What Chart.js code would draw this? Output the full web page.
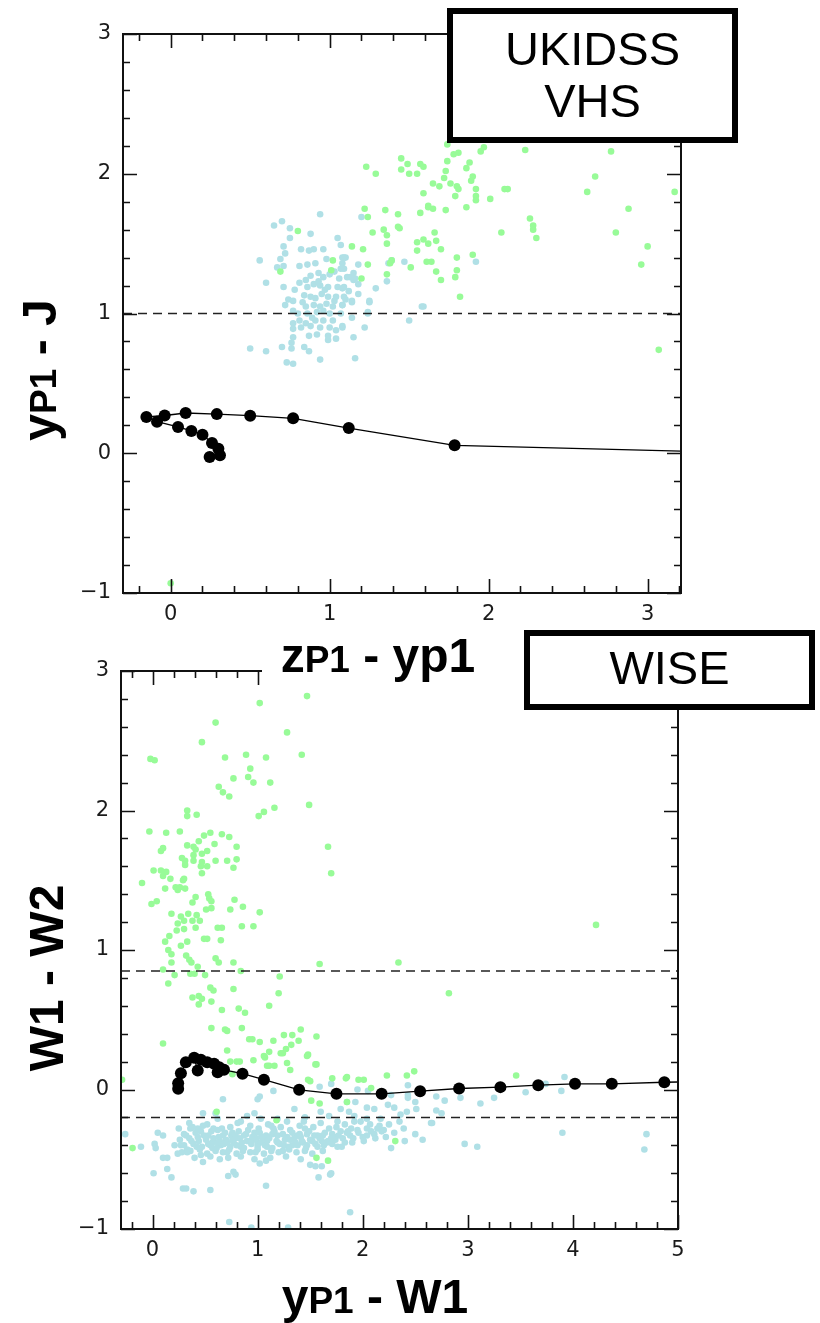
<!DOCTYPE html>
<html>
<head>
<meta charset="utf-8">
<script src="https://cdn.jsdelivr.net/npm/chart.js@4.4.0/dist/chart.umd.min.js"></script>
<style>
html, body { margin: 0; padding: 0; background: #fff; }
body { width: 820px; height: 1323px; position: relative; overflow: hidden; }
canvas { position: absolute; left: 0; }
#top-chart { top: 0; z-index: 2; }
#bottom-chart { top: 615px; z-index: 1; }
</style>
</head>
<body>
<canvas id="top-chart" width="820" height="700"></canvas>
<canvas id="bottom-chart" width="820" height="708"></canvas>
<script>
// ---- data: top panel (zP1 - yP1 vs yP1 - J) ----
const topXRange = [-0.3, 3.21];
const topYRange = [-1, 3];
const topXLabels = [0, 1, 2, 3];
const topYLabels = [-1, 0, 1, 2, 3];
const topDashY = [1.0];

const topTrackX = [3.60, 1.786, 1.12, 0.77, 0.50, 0.29, 0.094, -0.038, -0.153, -0.086, 0.046, 0.13, 0.20, 0.26, 0.30, 0.31, 0.245];
const topTrackY = [0.004, 0.057, 0.18, 0.25, 0.269, 0.28, 0.288, 0.27, 0.26, 0.226, 0.188, 0.16, 0.133, 0.074, 0.033, -0.014, -0.026];

const topCyan = [
  [0.94,1.71],[0.65,1.63],[0.70,1.66],[0.75,1.61],[0.75,1.54],[0.88,1.57],[1.20,1.69],[1.05,1.54],[1.07,1.49],[0.71,1.48],
  [0.82,1.46],[0.72,1.43],[0.87,1.45],[0.90,1.46],[0.96,1.46],[0.69,1.39],[0.56,1.38],[0.67,1.33],[0.71,1.34],[0.81,1.34],
  [0.86,1.35],[0.91,1.36],[0.98,1.39],[1.08,1.40],[1.10,1.40],[1.18,1.35],[1.07,1.32],[0.60,1.22],[0.71,1.19],[0.81,1.22],
  [0.88,1.27],[0.93,1.29],[0.96,1.26],[1.00,1.28],[1.06,1.25],[1.11,1.26],[1.15,1.29],[1.15,1.24],[1.18,1.21],[1.29,1.18],
  [0.78,1.17],[0.86,1.19],[0.90,1.21],[0.94,1.20],[0.99,1.19],[1.05,1.19],[1.09,1.19],[1.18,1.14],[0.74,1.10],[0.77,1.09],
  [0.84,1.13],[0.88,1.12],[0.91,1.11],[0.95,1.14],[0.99,1.12],[1.04,1.12],[1.09,1.12],[0.72,1.06],[1.14,1.08],[1.25,1.08],
  [0.77,1.02],[0.85,1.05],[0.90,1.06],[0.94,1.05],[0.98,1.07],[1.02,1.05],[1.08,1.06],[0.86,1.00],[0.92,1.01],[1.00,1.00],
  [1.07,1.00],[1.24,1.01],[1.59,1.05],[1.50,0.95],[1.14,0.97],[0.81,0.95],[0.85,0.93],[0.91,0.95],[0.96,0.95],[1.02,0.95],
  [0.77,0.93],[0.77,0.89],[0.82,0.90],[0.88,0.91],[0.94,0.90],[1.00,0.90],[1.04,0.88],[1.08,0.91],[1.22,0.90],[0.77,0.83],
  [0.87,0.84],[0.92,0.85],[0.99,0.81],[0.99,0.84],[1.04,0.82],[1.15,0.83],[0.50,0.75],[0.60,0.73],[0.70,0.76],[0.76,0.79],
  [0.76,0.75],[0.84,0.76],[0.87,0.73],[0.73,0.65],[0.77,0.64],[0.94,0.67],[1.16,0.68],[1.09,1.40],[1.08,1.36],[1.09,1.32],
  [1.13,1.26],[1.16,1.25],[1.08,1.18],[1.10,1.10],[1.14,1.09],[1.08,1.06],[1.25,1.09],[1.36,1.23],[1.39,1.38],[1.37,1.36],
  [1.47,1.37],[1.92,1.37],[1.58,1.05],[1.24,1.00],[1.08,0.90],[0.83,1.08],[0.97,1.17],[1.03,1.30],[0.89,0.97],[1.03,1.09],
  [0.93,1.23],[0.80,1.00],[1.12,1.16],[0.96,1.02],[0.85,1.24]
];

const topGreen = [
  [1.23,2.05],[1.29,2.00],[1.45,2.11],[1.49,2.07],[1.45,2.03],[1.50,2.00],[1.55,2.00],[1.57,2.07],[1.59,2.05],[1.59,1.86],
  [1.22,1.75],[1.24,1.69],[1.35,1.74],[1.43,1.71],[1.57,1.72],[1.62,1.76],[0.80,1.59],[1.27,1.58],[1.34,1.60],[1.36,1.56],
  [1.36,1.50],[1.44,1.61],[1.55,1.51],[1.59,1.53],[1.55,1.45],[1.62,1.50],[1.14,1.48],[1.21,1.46],[1.02,1.38],[1.01,1.31],
  [0.69,1.30],[1.24,1.35],[1.38,1.36],[1.39,1.38],[1.51,1.33],[1.61,1.37],[1.36,1.28],[1.20,1.25],[1.74,2.21],[1.78,2.14],
  [1.81,2.15],[1.95,2.16],[1.97,2.19],[2.23,2.17],[2.77,2.16],[1.74,2.09],[1.88,2.08],[1.86,2.04],[1.73,2.02],[1.72,1.97],
  [1.76,1.93],[1.65,1.93],[1.69,1.91],[1.90,1.98],[1.89,1.95],[1.80,1.91],[1.81,1.89],[1.92,1.89],[1.92,1.84],[1.92,1.81],
  [1.79,1.84],[2.01,1.82],[2.10,1.89],[2.12,1.89],[2.67,1.98],[2.62,1.87],[3.17,1.87],[2.88,1.75],[2.80,1.58],[3.00,1.48],
  [2.96,1.35],[3.07,0.74],[1.62,1.77],[1.65,1.75],[1.73,1.74],[1.86,1.76],[1.43,1.62],[2.26,1.68],[2.28,1.63],[2.28,1.60],
  [2.30,1.54],[2.08,1.58],[1.66,1.58],[1.67,1.52],[1.70,1.46],[1.64,1.37],[1.80,1.40],[1.90,1.42],[1.67,1.30],[1.80,1.31],
  [1.70,1.24],[1.79,1.26],[1.82,1.12],[0.00,-0.93]
];

// ---- data: bottom panel (yP1 - W1 vs W1 - W2) ----
const bottomXRange = [-0.3, 5.0];
const bottomYRange = [-1, 3];
const bottomXLabels = [0, 1, 2, 3, 4, 5];
const bottomYLabels = [-1, 0, 1, 2, 3];
const bottomDashY = [0.85, -0.2];

const bottomTrackX = [5.30, 4.87, 4.37, 4.02, 3.67, 3.31, 2.917, 2.546, 2.18, 1.75, 1.395, 1.06, 0.856, 0.68, 0.634, 0.62, 0.586, 0.52, 0.46, 0.43, 0.396, 0.317, 0.27, 0.244, 0.244];
const bottomTrackY = [0.058, 0.052, 0.041, 0.041, 0.031, 0.017, 0.007, -0.012, -0.031, -0.031, -0.002, 0.07, 0.113, 0.141, 0.16, 0.124, 0.184, 0.196, 0.213, 0.136, 0.227, 0.196, 0.117, 0.045, 0.005];

const bottomGreen = [
  [1.47,2.82],[1.02,2.77],[0.60,2.63],[0.47,2.49],[1.28,2.56],[-0.02,2.37],[0.02,2.36],[0.69,2.38],[0.89,2.40],[1.08,2.38],
  [1.42,2.40],[0.93,2.30],[0.91,2.24],[0.96,2.20],[0.77,2.23],[1.12,2.20],[0.63,2.17],[0.67,2.13],[0.73,2.10],[1.49,2.04],
  [1.16,2.02],[1.01,1.96],[1.06,1.99],[0.33,2.00],[0.33,1.96],[0.42,1.97],[-0.03,1.85],[0.13,1.84],[0.26,1.85],[1.67,1.74],
  [1.70,1.55],[0.55,1.84],[0.49,1.82],[0.44,1.78],[0.66,1.83],[0.73,1.81],[0.33,1.75],[0.39,1.74],[0.41,1.72],[0.52,1.71],
  [0.59,1.76],[0.80,1.74],[0.47,1.69],[0.08,1.71],[0.10,1.73],[0.28,1.66],[0.31,1.64],[0.39,1.68],[0.39,1.64],[0.60,1.64],
  [0.71,1.64],[0.80,1.65],[0.47,1.63],[0.46,1.60],[0.52,1.60],[0.47,1.55],[0.77,1.59],[0.31,1.61],[0.01,1.57],[0.08,1.57],
  [0.13,1.56],[0.10,1.53],[0.17,1.51],[0.29,1.50],[0.30,1.51],[-0.10,1.48],[0.12,1.44],[0.22,1.45],[0.24,1.43],[0.26,1.45],
  [0.31,1.44],[0.53,1.40],[0.54,1.37],[0.56,1.35],[0.41,1.38],[0.38,1.34],[-0.01,1.33],[0.04,1.35],[0.78,1.36],[0.74,1.29],
  [0.86,1.31],[1.02,1.27],[0.51,1.29],[0.56,1.30],[0.18,1.26],[0.27,1.24],[0.30,1.21],[0.34,1.26],[0.24,1.19],[0.42,1.25],
  [0.38,1.21],[0.41,1.16],[0.45,1.21],[0.62,1.16],[0.66,1.16],[0.85,1.17],[0.96,1.17],[0.23,1.14],[0.30,1.15],[0.16,1.10],
  [0.12,1.06],[0.33,1.06],[0.49,1.08],[0.52,1.08],[0.65,1.07],[0.15,1.00],[0.18,0.97],[0.27,1.03],[0.32,0.96],[0.35,0.93],
  [0.18,0.91],[0.37,0.91],[0.43,0.88],[0.60,0.94],[0.63,0.91],[0.77,0.91],[0.10,0.86],[0.21,0.82],[0.36,0.83],[0.40,0.83],
  [0.50,0.82],[0.84,0.85],[1.59,0.90],[1.21,0.81],[0.15,0.76],[0.55,0.73],[0.58,0.71],[0.77,0.72],[1.20,0.69],[0.38,0.66],
  [0.44,0.67],[0.47,0.65],[0.44,0.61],[0.56,0.63],[0.66,0.57],[0.82,0.58],[0.88,0.55],[1.11,0.60],[0.56,0.44],[0.69,0.43],
  [0.71,0.42],[0.85,0.44],[0.10,0.33],[0.92,0.36],[0.95,0.36],[1.02,0.34],[1.15,0.35],[1.25,0.39],[1.33,0.39],[1.41,0.43],
  [1.39,0.35],[1.56,0.38],[0.71,0.28],[1.11,0.27],[1.07,0.23],[1.22,0.26],[1.27,0.29],[1.32,0.32],[1.48,0.25],[0.96,0.21],
  [0.74,0.20],[0.80,0.20],[0.83,0.20],[1.11,0.17],[1.16,0.17],[1.28,0.19],[1.31,0.14],[1.56,0.18],[-0.29,0.07],[0.76,0.11],
  [1.48,0.07],[1.50,0.06],[1.71,0.08],[1.84,0.08],[1.85,0.09],[1.96,0.07],[2.01,0.07],[2.08,0.01],[2.23,0.10],[2.42,0.10],
  [2.49,0.13],[3.46,0.10],[4.22,1.18],[2.34,0.91],[2.82,0.69],[1.06,0.24],[1.24,0.26],[1.47,0.24],[1.55,0.18],[1.09,0.17],
  [-0.19,-0.42],[0.61,-0.16],[1.18,-0.22],[1.51,-0.08],[1.59,-0.10],[1.56,-0.49],[1.67,-0.51],[1.85,-0.09],[2.31,-0.37]
];

const bottomCyan = [
  [-0.26,-0.32],[-0.11,-0.41],[0.02,-0.39],[0.03,-0.42],[0.05,-0.31],[0.10,-0.33],[0.01,-0.60],[0.10,-0.49],[0.14,-0.49],[0.14,-0.57],
  [0.18,-0.63],[0.29,-0.71],[0.32,-0.71],[0.39,-0.73],[0.55,-0.72],[0.73,-0.95],[0.94,-0.99],[1.29,-0.99],[1.88,-0.88],[1.08,-0.69],
  [0.72,-0.62],[0.77,-0.59],[0.79,-0.61],[1.02,-0.53],[1.08,-0.51],[1.58,-0.63],[1.69,-0.61],[1.55,-0.55],[1.61,-0.55],[1.50,-0.54],
  [1.70,-0.60],[0.25,-0.28],[0.35,-0.24],[0.21,-0.40],[0.27,-0.40],[0.28,-0.45],[0.33,-0.45],[0.24,-0.46],[0.32,-0.33],[0.37,-0.37],
  [0.43,-0.28],[0.48,-0.26],[0.42,-0.41],[0.46,-0.47],[0.48,-0.52],[0.48,-0.17],[0.60,-0.17],[0.67,-0.07],
  [0.53,-0.33],[0.57,-0.38],[0.62,-0.29],[0.65,-0.40],[0.67,-0.33],[0.71,-0.38],[0.76,-0.31],[0.79,-0.35],[0.84,-0.41],[0.87,-0.33],
  [0.93,-0.37],[0.97,-0.31],[1.00,-0.39],[1.05,-0.35],[1.09,-0.41],[1.14,-0.32],[1.19,-0.38],[1.24,-0.44],[1.28,-0.34],[1.33,-0.40],
  [1.38,-0.33],[1.43,-0.38],[1.47,-0.32],[1.52,-0.37],[1.57,-0.41],[1.62,-0.33],[1.66,-0.38],[1.71,-0.32],[1.76,-0.41],[1.81,-0.35],
  [1.85,-0.31],[1.90,-0.38],[1.95,-0.29],[2.00,-0.34],[2.04,-0.28],[2.11,-0.32],[2.16,-0.26],[2.20,-0.29],[2.25,-0.25],[2.30,-0.31],
  [2.35,-0.23],[2.39,-0.28],
  [0.38,-0.27],[0.52,-0.25],[0.58,-0.28],[0.74,-0.27],[0.81,-0.24],[0.93,-0.26],[1.01,-0.28],[1.10,-0.25],[1.22,-0.27],[1.31,-0.29],
  [1.40,-0.26],[1.53,-0.27],[1.60,-0.24],[1.75,-0.27],[1.83,-0.25],[1.89,-0.28],[1.98,-0.23],[2.07,-0.25],
  [0.30,-0.32],[0.41,-0.31],[0.49,-0.33],[0.56,-0.30],[0.63,-0.34],[0.69,-0.31],[0.75,-0.33],[0.82,-0.30],[0.89,-0.32],[0.95,-0.34],
  [1.02,-0.31],[1.08,-0.33],[1.16,-0.30],[1.24,-0.32],[1.33,-0.31],[1.41,-0.34],[1.49,-0.30],[1.57,-0.33],[1.64,-0.31],[1.73,-0.34],
  [1.79,-0.30],[1.88,-0.33],[1.96,-0.31],[2.08,-0.30],[2.14,-0.28],
  [0.26,-0.36],[0.35,-0.35],[0.44,-0.37],[0.51,-0.36],[0.58,-0.35],[0.64,-0.37],[0.70,-0.36],[0.77,-0.38],[0.83,-0.35],[0.90,-0.37],
  [0.96,-0.36],[1.03,-0.38],[1.11,-0.35],[1.18,-0.37],[1.26,-0.36],[1.35,-0.35],[1.42,-0.37],[1.50,-0.36],[1.59,-0.35],[1.67,-0.37],
  [1.74,-0.36],[1.83,-0.38],[1.91,-0.35],[2.01,-0.37],
  [0.30,-0.40],[0.39,-0.39],[0.47,-0.41],[0.55,-0.40],[0.61,-0.42],[0.68,-0.39],[0.74,-0.41],[0.80,-0.40],[0.87,-0.42],[0.94,-0.39],
  [1.00,-0.41],[1.07,-0.40],[1.14,-0.42],[1.21,-0.39],[1.29,-0.41],[1.38,-0.40],[1.46,-0.42],[1.55,-0.39],[1.63,-0.40],[1.71,-0.39],
  [1.80,-0.41],
  [0.36,-0.44],[0.45,-0.43],[0.52,-0.46],[0.60,-0.44],[0.67,-0.45],[0.73,-0.43],[0.80,-0.46],[0.86,-0.44],[0.93,-0.45],[1.00,-0.43],
  [1.06,-0.46],[1.13,-0.44],[1.20,-0.45],[1.30,-0.43],[1.37,-0.45],[1.45,-0.44],[1.52,-0.46],[1.62,-0.44],
  [0.40,-0.49],[0.55,-0.48],[0.64,-0.50],[0.72,-0.49],[0.84,-0.48],[0.97,-0.50],[1.12,-0.49],[1.27,-0.48],[1.41,-0.50],
  [0.46,-0.30],[0.62,-0.38],[0.79,-0.33],[0.99,-0.35],[1.19,-0.33],[1.36,-0.38],[1.54,-0.33],[1.70,-0.35],[0.57,-0.42],[0.85,-0.38],
  [1.09,-0.37],[1.31,-0.36],[1.47,-0.40],[0.66,-0.28],[0.91,-0.29],[1.15,-0.28],[1.45,-0.28],[1.68,-0.28],[1.86,-0.30],[2.04,-0.33],
  [2.12,-0.35],[2.18,-0.30],[2.22,-0.34],[0.33,-0.43],[0.43,-0.34],[0.53,-0.39],[0.71,-0.45],[0.76,-0.36],[0.98,-0.45],[1.04,-0.34],
  [1.25,-0.40],[1.40,-0.32],[1.61,-0.37],[1.77,-0.33],
  [1.00,-0.07],[1.02,-0.05],[1.15,-0.01],[1.35,-0.14],[1.45,-0.20],[1.59,0.02],[1.70,0.04],[1.95,0.00],[2.05,-0.01],[2.04,-0.13],
  [2.11,-0.14],[2.24,-0.11],[2.30,-0.13],[2.43,-0.04],[2.50,-0.09],[2.51,-0.14],[2.36,-0.18],[2.42,-0.16],[2.50,-0.32],[2.57,-0.36],
  [2.40,-0.37],[2.27,-0.42],[2.65,-0.24],[1.60,-0.16],[1.68,-0.19],[1.79,-0.14],[1.87,-0.16],[1.92,-0.19],[1.85,-0.09],[1.93,-0.09],
  [1.76,-0.23],[1.92,-0.23],[2.04,-0.21],[2.17,-0.21],[1.19,-0.21],[1.13,-0.26],[1.28,-0.23],[1.44,-0.23],[0.84,-0.23],[0.90,-0.19],
  [0.97,-0.17],[1.03,-0.21],[0.62,-0.21],[0.36,-0.28],[2.27,-0.04],[2.43,0.03],[2.43,-0.06],
  [2.70,-0.05],[2.78,-0.08],[2.70,-0.15],[2.75,-0.17],[2.66,-0.24],[2.93,-0.06],[3.12,-0.10],[3.25,-0.06],[3.55,-0.02],[3.74,0.04],
  [3.89,-0.01],[3.92,0.09],[2.97,-0.39],[3.09,-0.41],[3.90,-0.31],[4.70,-0.32],[4.68,-0.43]
];

// ---- styling ----
const CYAN = "rgb(176, 224, 230)";
const GREEN = "rgb(152, 251, 152)";
const TICK_FONT = { family: "DejaVu Sans", size: 21 };
const TITLE = "bold 48px 'Liberation Sans'";
const TITLE_SMALL = "bold 37px 'Liberation Sans'";

const toPoints = (arr) => arr.map(([x, y]) => ({ x, y }));
const zipPoints = (xs, ys) => xs.map((x, i) => ({ x, y: ys[i] }));
const minusSign = (v) => (v < 0 ? "\u2212" + Math.abs(v) : String(v));

function drawParts(ctx, parts, x, y, rot) {
  ctx.save();
  ctx.translate(x, y);
  ctx.rotate(rot);
  ctx.fillStyle = "#000";
  ctx.textBaseline = "alphabetic";
  ctx.textAlign = "left";
  let total = 0;
  parts.forEach(([t, f]) => { ctx.font = f; total += ctx.measureText(t).width; });
  let cx = -total / 2;
  parts.forEach(([t, f]) => { ctx.font = f; ctx.fillText(t, cx, 0); cx += ctx.measureText(t).width; });
  ctx.restore();
}

// frame with inward major/minor ticks on all four sides
const frameTicks = {
  id: "frameTicks",
  afterDraw(chart) {
    const { ctx, chartArea: a, scales } = chart;
    const xs = scales.x, ys = scales.y;
    ctx.save();
    ctx.strokeStyle = "#111";
    ctx.lineWidth = 1.6;
    ctx.beginPath();
    for (let i = Math.ceil(xs.min * 5); i <= Math.floor(xs.max * 5 + 1e-6); i++) {
      const px = Math.round(xs.getPixelForValue(i / 5)) + 0.5;
      const len = i % 5 === 0 ? 14 : 7;
      ctx.moveTo(px, a.bottom); ctx.lineTo(px, a.bottom - len);
      ctx.moveTo(px, a.top); ctx.lineTo(px, a.top + len);
    }
    for (let i = Math.ceil(ys.min * 5); i <= Math.floor(ys.max * 5 + 1e-6); i++) {
      const py = Math.round(ys.getPixelForValue(i / 5)) + 0.5;
      const len = i % 5 === 0 ? 14 : 7;
      ctx.moveTo(a.left, py); ctx.lineTo(a.left + len, py);
      ctx.moveTo(a.right, py); ctx.lineTo(a.right - len, py);
    }
    ctx.stroke();
    ctx.lineWidth = 2;
    ctx.strokeRect(a.left, a.top, a.right - a.left, a.bottom - a.top);
    ctx.restore();
  },
};

// labelled boxes and axis titles
const decorations = {
  id: "decorations",
  afterDraw(chart, args, opts) {
    const { ctx } = chart;
    ctx.save();
    if (opts.cover) {
      ctx.fillStyle = "#fff";
      ctx.fillRect(opts.cover.x, opts.cover.y, opts.cover.w, opts.cover.h);
    }
    const b = opts.box;
    ctx.fillStyle = "#fff";
    ctx.fillRect(b.x, b.y, b.w, b.h);
    ctx.lineWidth = 6;
    ctx.strokeStyle = "#000";
    ctx.strokeRect(b.x, b.y, b.w, b.h);
    ctx.fillStyle = "#000";
    ctx.font = "47px 'Liberation Sans'";
    ctx.textAlign = "center";
    ctx.textBaseline = "middle";
    b.lines.forEach((t, i) => ctx.fillText(t, b.x + b.w / 2, b.textY[i]));
    ctx.restore();
    drawParts(ctx, opts.xTitle.parts, opts.xTitle.x, opts.xTitle.y, 0);
    drawParts(ctx, opts.yTitle.parts, opts.yTitle.x, opts.yTitle.y, -Math.PI / 2);
  },
};

function makeChart(el, cfg) {
  return new Chart(document.getElementById(el), {
    type: "scatter",
    plugins: [frameTicks, decorations],
    data: {
      datasets: [
        {
          type: "line",
          data: cfg.track,
          showLine: true,
          borderColor: "#000",
          borderWidth: 1.3,
          tension: 0,
          pointRadius: 6,
          pointBackgroundColor: "#000",
          pointBorderWidth: 0,
        },
        ...cfg.dashY.map((y) => ({
          type: "line",
          data: cfg.xRange.map((x) => ({ x, y })),
          showLine: true,
          borderColor: "#222",
          borderWidth: 1.5,
          borderDash: [9, 6],
          pointRadius: 0,
        })),
        { data: toPoints(cfg.green), backgroundColor: GREEN, pointRadius: 3.3, pointBorderWidth: 0 },
        { data: toPoints(cfg.cyan), backgroundColor: CYAN, pointRadius: 3.3, pointBorderWidth: 0 },
      ],
    },
    options: {
      responsive: false,
      animation: false,
      events: [],
      layout: { padding: cfg.padding },
      plugins: {
        legend: { display: false },
        tooltip: { enabled: false },
        decorations: cfg.deco,
      },
      scales: {
        x: {
          type: "linear",
          min: cfg.xRange[0],
          max: cfg.xRange[1],
          grid: { display: false, drawTicks: false },
          border: { display: false },
          ticks: { font: TICK_FONT, color: "#1a1a1a", padding: 9, maxRotation: 0, autoSkip: false, callback: minusSign },
          afterBuildTicks: (s) => { s.ticks = cfg.xLabels.map((v) => ({ value: v })); },
          afterFit: (s) => { s.height = cfg.xHeight; },
        },
        y: {
          type: "linear",
          min: cfg.yRange[0],
          max: cfg.yRange[1],
          grid: { display: false, drawTicks: false },
          border: { display: false },
          ticks: { font: TICK_FONT, color: "#1a1a1a", padding: 12, autoSkip: false, callback: minusSign },
          afterBuildTicks: (s) => { s.ticks = cfg.yLabels.map((v) => ({ value: v })); },
          afterFit: (s) => { s.width = cfg.yWidth; },
        },
      },
    },
  });
}

makeChart("top-chart", {
  track: zipPoints(topTrackX, topTrackY),
  dashY: topDashY,
  xRange: topXRange,
  yRange: topYRange,
  xLabels: topXLabels,
  yLabels: topYLabels,
  green: topGreen,
  cyan: topCyan,
  padding: { left: 0, top: 34, right: 139, bottom: 0 },
  xHeight: 107,
  yWidth: 123,
  deco: {
    cover: { x: 262, y: 630, w: 262, h: 57 },
    box: { x: 450, y: 11, w: 285, h: 129, lines: ["UKIDSS", "VHS"], textY: [52, 104] },
    xTitle: { parts: [["z", TITLE], ["P1", TITLE_SMALL], [" - yp1", TITLE]], x: 378, y: 672 },
    yTitle: { parts: [["y", TITLE], ["P1", TITLE_SMALL], [" - J", TITLE]], x: 56, y: 370 },
  },
});

makeChart("bottom-chart", {
  track: zipPoints(bottomTrackX, bottomTrackY),
  dashY: bottomDashY,
  xRange: bottomXRange,
  yRange: bottomYRange,
  xLabels: bottomXLabels,
  yLabels: bottomYLabels,
  green: bottomGreen,
  cyan: bottomCyan,
  padding: { left: 0, top: 56, right: 142, bottom: 0 },
  xHeight: 94,
  yWidth: 121,
  deco: {
    box: { x: 527, y: 18, w: 285, h: 74, lines: ["WISE"], textY: [56] },
    xTitle: { parts: [["y", TITLE], ["P1", TITLE_SMALL], [" - W1", TITLE]], x: 375, y: 698 },
    yTitle: { parts: [["W1 - W2", TITLE]], x: 63, y: 363 },
  },
});
</script>
</body>
</html>
